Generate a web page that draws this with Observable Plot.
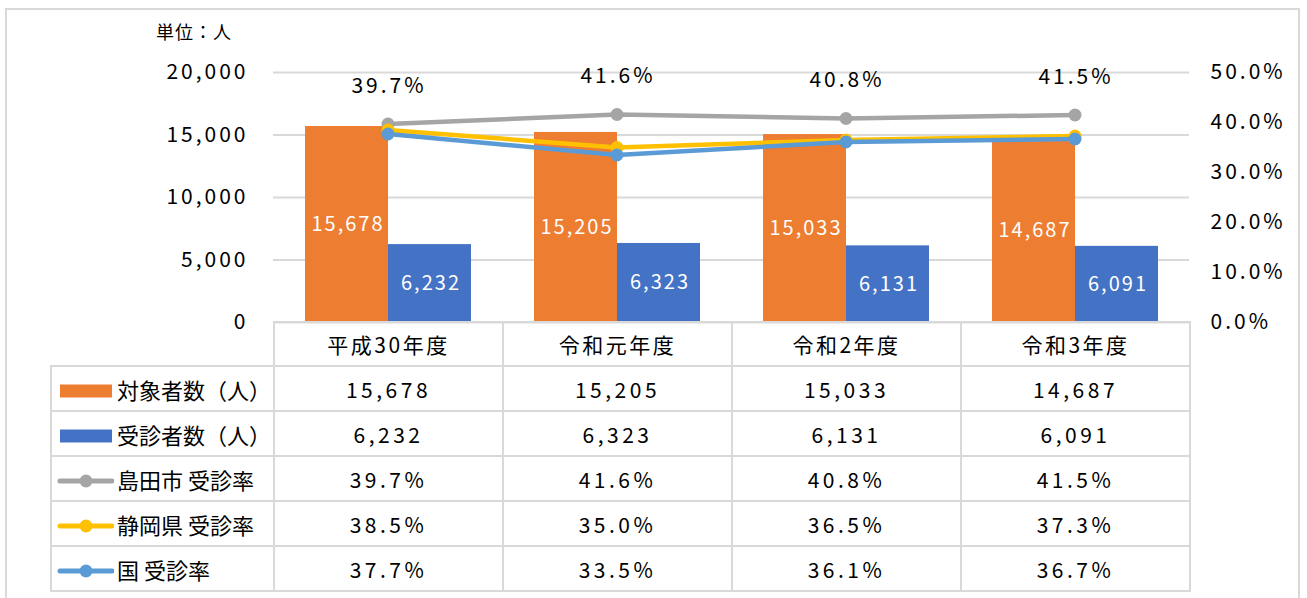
<!DOCTYPE html>
<html>
<head>
<meta charset="utf-8">
<script src="https://cdn.jsdelivr.net/npm/d3@7"></script>
<script src="https://cdn.jsdelivr.net/npm/@observablehq/plot@0.6"></script>
<style>
  html, body { margin:0; padding:0; background:#fff; }
  body { font-family: "Noto Sans CJK JP", "Noto Sans", sans-serif; color:#000; }
  #wrap { position:relative; width:1307px; height:598px; overflow:hidden; }
  #frame { position:absolute; left:5px; top:8px; width:1295px; height:600px; border:2px solid #d9d9d9; box-sizing:border-box; }
  #unit { position:absolute; left:156px; top:18px; font-size:18px; letter-spacing:1px; }
  #chart { position:absolute; left:0; top:0; }
  #chart svg text { letter-spacing:3px; }
  #chart svg g.barlab text { letter-spacing:2px; }
  table { position:absolute; left:50px; top:321px; border-collapse:collapse; table-layout:fixed; width:1141px; }
  td { border:2px solid #d9d9d9; padding:0; text-align:center; vertical-align:middle; font-size:21px; letter-spacing:3.5px; height:43px; white-space:nowrap; overflow:hidden; }
  tr.head td { height:42px; letter-spacing:2.5px; }
  tr.head td.blank { border-top-style:hidden; border-left-style:hidden; }
  td.leg { text-align:left; padding-left:4px; letter-spacing:0px; font-size:22px; }
  td.leg svg { vertical-align:middle; margin-right:3px; position:relative; top:-2px; }
</style>
</head>
<body>
<div id="wrap">
  <div id="frame"></div>
  <div id="unit">単位：人</div>
  <div id="chart"></div>
  <table id="tbl"></table>
</div>
<script>
const categories = ["平成30年度", "令和元年度", "令和2年度", "令和3年度"];
const targetCounts = [15678, 15205, 15033, 14687];
const examCounts = [6232, 6323, 6131, 6091];
const shimadaRate = [39.7, 41.6, 40.8, 41.5];
const shizuokaRate = [38.5, 35.0, 36.5, 37.3];
const nationalRate = [37.7, 33.5, 36.1, 36.7];
const leftTicks = [0, 5000, 10000, 15000, 20000];
const rightTicks = [0, 10, 20, 30, 40, 50];
const seriesNames = ["対象者数（人）", "受診者数（人）", "島田市 受診率", "静岡県 受診率", "国 受診率"];

const colors = { target:"#ED7D31", exam:"#4472C4", shimada:"#A5A5A5", shizuoka:"#FFC000", national:"#5B9BD5" };
const scaleK = 20000 / 50; // 50% on right axis == 20,000 on left axis

const bars = categories.map((c, i) => ({ cat:c, target:targetCounts[i], exam:examCounts[i] }));
const rateRows = (arr) => categories.map((c, i) => ({ cat:c, rate:arr[i], y:arr[i] * scaleK }));
const shimada = rateRows(shimadaRate);
const shizuoka = rateRows(shizuokaRate);
const national = rateRows(nationalRate);

const fmt = d3.format(",");
const font = "'Noto Sans CJK JP', 'Noto Sans', sans-serif";

const chart = Plot.plot({
  width: 1307,
  height: 330,
  marginLeft: 273,
  marginRight: 118,
  marginTop: 72,
  marginBottom: 8,
  style: { fontFamily: font, fontSize: "20px", background: "transparent", overflow: "visible" },
  x: { type: "band", domain: categories, padding: 0, axis: null },
  y: { domain: [0, 20000] },
  marks: [
    Plot.gridY(leftTicks, { stroke: "#d9d9d9", strokeOpacity: 1, strokeWidth: 2 }),
    Plot.axisY({ anchor: "left", ticks: leftTicks, tickFormat: fmt, tickSize: 0, tickPadding: 25, fontSize: 21, fill: "#000", label: null }),
    Plot.axisY({ anchor: "right", ticks: rightTicks.map(t => t * scaleK), tickFormat: d => (d / scaleK).toFixed(1) + "%", tickSize: 0, tickPadding: 21, fontSize: 21, fill: "#000", label: null }),
    Plot.barY(bars, { x: "cat", y: "target", fill: colors.target, insetLeft: 32, insetRight: 114 }),
    Plot.barY(bars, { x: "cat", y: "exam", fill: colors.exam, insetLeft: 115, insetRight: 31 }),
    Plot.text(bars, { x: "cat", y: d => d.target / 2, text: d => fmt(d.target), dx: -40, fill: "#fff", fontSize: 20, className: "barlab" }),
    Plot.text(bars, { x: "cat", y: d => d.exam / 2, text: d => fmt(d.exam), dx: 43, fill: "#fff", fontSize: 20, className: "barlab" }),
    Plot.line(shimada, { x: "cat", y: "y", stroke: colors.shimada, strokeWidth: 4.5 }),
    Plot.dot(shimada, { x: "cat", y: "y", r: 6.5, fill: colors.shimada }),
    Plot.line(shizuoka, { x: "cat", y: "y", stroke: colors.shizuoka, strokeWidth: 4.5 }),
    Plot.dot(shizuoka, { x: "cat", y: "y", r: 6.5, fill: colors.shizuoka }),
    Plot.line(national, { x: "cat", y: "y", stroke: colors.national, strokeWidth: 4.5 }),
    Plot.dot(national, { x: "cat", y: "y", r: 6.5, fill: colors.national }),
    Plot.text(shimada, { x: "cat", y: "y", text: d => d.rate.toFixed(1) + "%", dy: -38, dx: 1, fill: "#000", fontSize: 21 })
  ]
});
document.getElementById("chart").appendChild(chart);

// data table under the chart
const tbl = document.getElementById("tbl");
const colgroup = document.createElement("colgroup");
[223, 229, 229, 229, 229].forEach(w => { const c = document.createElement("col"); c.style.width = w + "px"; colgroup.appendChild(c); });
tbl.appendChild(colgroup);

const head = document.createElement("tr");
head.className = "head";
const blank = document.createElement("td"); blank.className = "blank"; head.appendChild(blank);
categories.forEach(c => { const td = document.createElement("td"); td.textContent = c; head.appendChild(td); });
tbl.appendChild(head);

const rows = [
  { name: seriesNames[0], kind: "bar", color: colors.target, vals: targetCounts.map(fmt) },
  { name: seriesNames[1], kind: "bar", color: colors.exam, vals: examCounts.map(fmt) },
  { name: seriesNames[2], kind: "line", color: colors.shimada, vals: shimadaRate.map(v => v.toFixed(1) + "%") },
  { name: seriesNames[3], kind: "line", color: colors.shizuoka, vals: shizuokaRate.map(v => v.toFixed(1) + "%") },
  { name: seriesNames[4], kind: "line", color: colors.national, vals: nationalRate.map(v => v.toFixed(1) + "%") }
];
const NS = "http://www.w3.org/2000/svg";
rows.forEach(r => {
  const tr = document.createElement("tr");
  const lg = document.createElement("td"); lg.className = "leg";
  const s = document.createElementNS(NS, "svg");
  s.setAttribute("width", 58); s.setAttribute("height", 16);
  if (r.kind === "bar") {
    const rc = document.createElementNS(NS, "rect");
    rc.setAttribute("x", 4); rc.setAttribute("y", 1.5); rc.setAttribute("width", 52); rc.setAttribute("height", 13); rc.setAttribute("fill", r.color);
    s.appendChild(rc);
  } else {
    const ln = document.createElementNS(NS, "line");
    ln.setAttribute("x1", 4); ln.setAttribute("x2", 56); ln.setAttribute("y1", 8); ln.setAttribute("y2", 8);
    ln.setAttribute("stroke", r.color); ln.setAttribute("stroke-width", 5); ln.setAttribute("stroke-linecap", "round");
    const ci = document.createElementNS(NS, "circle");
    ci.setAttribute("cx", 30); ci.setAttribute("cy", 8); ci.setAttribute("r", 6.5); ci.setAttribute("fill", r.color);
    s.appendChild(ln); s.appendChild(ci);
  }
  lg.appendChild(s);
  lg.appendChild(document.createTextNode(r.name));
  tr.appendChild(lg);
  r.vals.forEach(v => { const td = document.createElement("td"); td.textContent = v; tr.appendChild(td); });
  tbl.appendChild(tr);
});
</script>
</body>
</html>
